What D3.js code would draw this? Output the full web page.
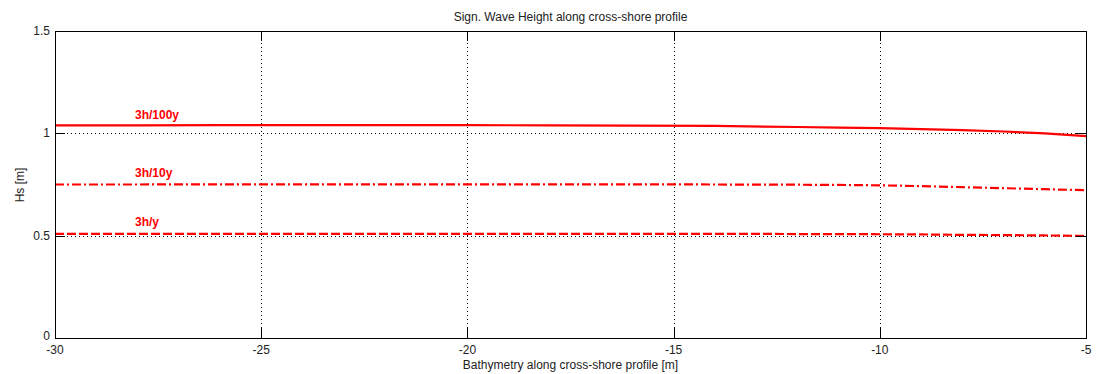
<!DOCTYPE html>
<html><head><meta charset="utf-8">
<script src="https://cdn.jsdelivr.net/npm/d3@7"></script>
<style>body{margin:0;background:#fff;}svg{display:block;font-family:"Liberation Sans",Arial,sans-serif;}</style>
</head><body>
<svg id="c" width="1096" height="374"></svg>
<script>
const depth   = [-30,-28,-26,-24,-22,-20,-18,-16,-14,-12,-11,-10,-9,-8,-7,-6,-5];
const hs100y  = [1.039,1.039,1.040,1.040,1.040,1.040,1.039,1.038,1.036,1.031,1.028,1.025,1.021,1.016,1.009,1.000,0.986];
const hs10y   = [0.750,0.750,0.751,0.751,0.751,0.751,0.751,0.751,0.750,0.749,0.748,0.746,0.742,0.737,0.732,0.727,0.722];
const hs1y    = [0.509,0.509,0.509,0.509,0.509,0.509,0.509,0.509,0.509,0.508,0.508,0.507,0.506,0.504,0.503,0.501,0.499];
const seriesNames = ["3h/100y","3h/10y","3h/y"];
const xTicks = [-30,-25,-20,-15,-10,-5];
const yTicks = [0,0.5,1,1.5];
const labelX = -28.06;
const labelY = [1.07,0.785,0.545];

const L=55,R=1086,T=31,B=338;
const svg=d3.select("#c");
const x=d3.scaleLinear().domain([-30,-5]).range([L,R]);
const y=d3.scaleLinear().domain([0,1.5]).range([B,T]);

// grid
const g=svg.append("g");
xTicks.slice(1,-1).forEach(v=>g.append("line").attr("x1",Math.round(x(v))+0.5).attr("x2",Math.round(x(v))+0.5).attr("y1",T).attr("y2",B)
  .attr("stroke","#000").attr("stroke-width",1).attr("stroke-dasharray","1,3"));
yTicks.slice(1,-1).forEach(v=>g.append("line").attr("y1",Math.round(y(v))+0.5).attr("y2",Math.round(y(v))+0.5).attr("x1",L).attr("x2",R)
  .attr("stroke","#000").attr("stroke-width",1).attr("stroke-dasharray","1,3"));

// lines
const styles=[{d:null},{d:"9,3,2,3"},{d:"9,3"}];
const data=[hs100y,hs10y,hs1y];
const line=d3.line().x((d,i)=>x(depth[i])).y(d=>y(d));
data.forEach((s,k)=>{
  const p=svg.append("path").attr("d",line(s)).attr("fill","none").attr("stroke","#ff0000").attr("stroke-width",2.2);
  if(styles[k].d) p.attr("stroke-dasharray",styles[k].d);
  svg.append("text").attr("x",x(labelX)).attr("y",y(labelY[k])).attr("fill","#ff0000")
    .attr("font-weight","bold").attr("font-size",12).text(seriesNames[k]);
});

// axes with inward ticks
const ax=svg.append("g").attr("stroke","#000").attr("shape-rendering","crispEdges");
ax.append("rect").attr("x",L+0.5).attr("y",T+0.5).attr("width",R-L).attr("height",B-T).attr("fill","none");
xTicks.forEach(v=>{
  const px=Math.round(x(v))+0.5;
  ax.append("line").attr("x1",px).attr("x2",px).attr("y1",B).attr("y2",B-10);
  ax.append("line").attr("x1",px).attr("x2",px).attr("y1",T).attr("y2",T+10);
});
yTicks.forEach(v=>{
  const py=Math.round(y(v))+0.5;
  ax.append("line").attr("x1",L).attr("x2",L+10).attr("y1",py).attr("y2",py);
  ax.append("line").attr("x1",R).attr("x2",R-10).attr("y1",py).attr("y2",py);
});
xTicks.forEach(v=>svg.append("text").attr("x",x(v)).attr("y",B+16).attr("text-anchor","middle")
  .attr("font-size",12).attr("fill","#222").text(String(v)));
yTicks.forEach(v=>svg.append("text").attr("x",L-5).attr("y",y(v)+(v===0?2:4)).attr("text-anchor","end")
  .attr("font-size",12).attr("fill","#222").text(String(v)));

svg.append("text").attr("x",(L+R)/2).attr("y",21).attr("text-anchor","middle").attr("font-size",12).attr("fill","#222")
  .text("Sign. Wave Height along cross-shore profile");
svg.append("text").attr("x",(L+R)/2).attr("y",369).attr("text-anchor","middle").attr("font-size",12).attr("fill","#222")
  .text("Bathymetry along cross-shore profile [m]");
svg.append("text").attr("transform","translate(24,185) rotate(-90)").attr("text-anchor","middle").attr("font-size",12).attr("fill","#222")
  .text("Hs [m]");
</script>
</body></html>
